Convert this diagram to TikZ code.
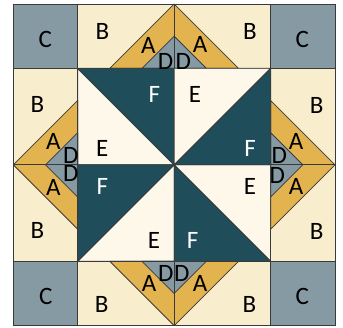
\documentclass[tikz,border=0pt]{standalone}
\usepackage{fontspec}
\setmainfont{Carlito}
\definecolor{cgray}{HTML}{869AA3}
\definecolor{cgold}{HTML}{E3B350}
\definecolor{cbeige}{HTML}{F8EDCC}
\definecolor{ccream}{HTML}{FEF8EB}
\definecolor{cteal}{HTML}{1F4E5A}
\definecolor{cline}{HTML}{3A3A3A}
\begin{document}
\begin{tikzpicture}[x=1pt,y=-1pt,
  piece/.style={draw=cline,line width=0.8pt,line join=round},
  lbl/.style={font=\fontsize{25}{25}\selectfont,text=black,inner sep=0pt},
  wlbl/.style={lbl,text=white}]
\useasboundingbox (0,0) rectangle (343,328);
\foreach \ang in {0,90,180,270}{
\begin{scope}[shift={(174.15,164.85)},rotate=\ang]
  % corner
  \filldraw[piece,fill=cgray] (-160.85,-160.85) rectangle (-96.51,-96.51);
  % side strip
  \filldraw[piece,fill=cbeige] (-96.51,-160.85) rectangle (96.51,-96.51);
  \filldraw[piece,fill=cgold] (-64.34,-96.51) -- (0,-160.85) -- (64.34,-96.51) -- cycle;
  \filldraw[piece,fill=cgray] (-32.17,-96.51) -- (0,-128.68) -- (32.17,-96.51) -- cycle;
  \draw[piece] (0,-160.85) -- (0,-96.51);
  % pinwheel quadrant
  \filldraw[piece,fill=ccream] (-96.51,-96.51) -- (-96.51,0) -- (0,0) -- cycle;
  \filldraw[piece,fill=cteal] (-96.51,-96.51) -- (0,-96.51) -- (0,0) -- cycle;
\end{scope}}
\draw[piece] (13.3,4) rectangle (335,325.7);
% labels C
\node[lbl] (c1) at (45.3,39.3) {C};
\node[lbl] (c2) at (302.3,39.3) {C};
\node[lbl] (c3) at (45.7,296.7) {C};
\node[lbl] (c4) at (302.3,296.7) {C};
% labels B
\node[lbl] (b1) at (102.5,31.5) {B};
\node[lbl] (b2) at (250,31.7) {B};
\node[lbl] (b3) at (37.3,104.3) {B};
\node[lbl] (b4) at (316.7,105) {B};
\node[lbl] (b5) at (37.3,230.7) {B};
\node[lbl] (b6) at (316.7,231.7) {B};
\node[lbl] (b7) at (101.7,304) {B};
\node[lbl] (b8) at (249.5,304) {B};
% labels A
\node[lbl] (a1) at (148.3,45.5) {A};
\node[lbl] (a2) at (200,44.5) {A};
\node[lbl] (a3) at (53.3,141.7) {A};
\node[lbl] (a4) at (53.3,187) {A};
\node[lbl] (a5) at (296,141.7) {A};
\node[lbl] (a6) at (296,186.7) {A};
\node[lbl] (a7) at (149,283.3) {A};
\node[lbl] (a8) at (200,283.3) {A};
% labels D
\node[lbl] (d1) at (165.5,61) {D};
\node[lbl] (d2) at (183.3,61) {D};
\node[lbl] (d3) at (70.7,155) {D};
\node[lbl] (d4) at (70.7,173.8) {D};
\node[lbl] (d5) at (279.3,155) {D};
\node[lbl] (d6) at (277.3,175) {D};
\node[lbl] (d7) at (165.7,273.3) {D};
\node[lbl] (d8) at (181.7,273.3) {D};
% labels E
\node[lbl] (e1) at (102.3,148.3) {E};
\node[lbl] (e2) at (195,94.3) {E};
\node[lbl] (e3) at (154,240) {E};
\node[lbl] (e4) at (250,186.7) {E};
% labels F
\node[wlbl] (f1) at (154.3,94.3) {F};
\node[wlbl] (f2) at (250,148.3) {F};
\node[wlbl] (f3) at (102.3,186.7) {F};
\node[wlbl] (f4) at (192.7,240) {F};
\end{tikzpicture}
\end{document}
